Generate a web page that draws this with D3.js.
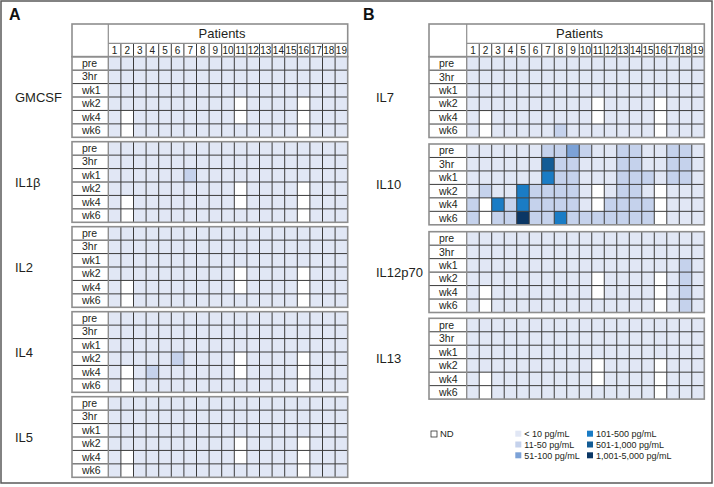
<!DOCTYPE html>
<html><head><meta charset="utf-8">
<script src="https://cdn.jsdelivr.net/npm/d3@7"></script>
<style>
body{margin:0;background:#fff}
svg{display:block}
text{font-family:"Liberation Sans",Arial,Helvetica,sans-serif;fill:#231f20}
</style>
</head><body>
<svg id="chart" width="714" height="487"></svg>
<script>
// ---------- data ----------
const patients = [1,2,3,4,5,6,7,8,9,10,11,12,13,14,15,16,17,18,19];
const timepoints = ["pre","3hr","wk1","wk2","wk4","wk6"];
const levels = ["ND","< 10 pg/mL","11-50 pg/mL","51-100 pg/mL","101-500 pg/mL","501-1,000 pg/mL","1,001-5,000 pg/mL"];
const panelACytokines = ["GMCSF","IL1β","IL2","IL4","IL5"];
const panelBCytokines = ["IL7","IL10","IL12p70","IL13"];
// level codes: 0=ND, 1=<10, 2=11-50, 3=51-100, 4=101-500, 5=501-1,000, 6=1,001-5,000
const GMCSF = [
  [1,1,1,1,1,1,1,1,1,1,1,1,1,1,1,1,1,1,1],
  [1,1,1,1,1,1,1,1,1,1,1,1,1,1,1,1,1,1,1],
  [1,1,1,1,1,1,1,1,1,1,1,1,1,1,1,1,1,1,1],
  [1,1,1,1,1,1,1,1,1,1,0,1,1,1,1,0,1,1,1],
  [1,0,1,1,1,1,1,1,1,1,0,1,1,1,1,0,1,1,1],
  [1,0,1,1,1,1,1,1,1,1,1,1,1,1,1,0,1,1,1]];
const IL1b = [
  [1,1,1,1,1,1,1,1,1,1,1,1,1,1,1,1,1,1,1],
  [1,1,1,1,1,1,1,1,1,1,1,1,1,1,1,1,1,1,1],
  [1,1,1,1,1,1,2,1,1,1,1,1,1,1,1,1,1,1,1],
  [1,1,1,1,1,1,1,1,1,1,0,1,1,1,1,0,1,1,1],
  [1,0,1,1,1,1,1,1,1,1,0,1,1,1,1,0,1,1,1],
  [1,0,1,1,1,1,1,1,1,1,1,1,1,1,1,0,1,1,1]];
const IL2 = [
  [1,1,1,1,1,1,1,1,1,1,1,1,1,1,1,1,1,1,1],
  [1,1,1,1,1,1,1,1,1,1,1,1,1,1,1,1,1,1,1],
  [1,1,1,1,1,1,1,1,1,1,1,1,1,1,1,1,1,1,1],
  [1,1,1,1,1,1,1,1,1,1,0,1,1,1,1,0,1,1,1],
  [1,0,1,1,1,1,1,1,1,1,0,1,1,1,1,0,1,1,1],
  [1,0,1,1,1,1,1,1,1,1,1,1,1,1,1,0,1,1,1]];
const IL4 = [
  [1,1,1,1,1,1,1,1,1,1,1,1,1,1,1,1,1,1,1],
  [1,1,1,1,1,1,1,1,1,1,1,1,1,1,1,1,1,1,1],
  [1,1,1,1,1,1,1,1,1,1,1,1,1,1,1,1,1,1,1],
  [1,1,1,1,1,2,1,1,1,1,0,1,1,1,1,0,1,1,1],
  [1,0,1,2,1,1,1,1,1,1,0,1,1,1,1,0,1,1,1],
  [1,0,1,1,1,1,1,1,1,1,1,1,1,1,1,0,1,1,1]];
const IL5 = [
  [1,1,1,1,1,1,1,1,1,1,1,1,1,1,1,1,1,1,1],
  [1,1,1,1,1,1,1,1,1,1,1,1,1,1,1,1,1,1,1],
  [1,1,1,1,1,1,1,1,1,1,1,1,1,1,1,1,1,1,1],
  [1,1,1,1,1,1,1,1,1,1,0,1,1,1,1,0,1,1,1],
  [1,0,1,1,1,1,1,1,1,1,0,1,1,1,1,0,1,1,1],
  [1,0,1,1,1,1,1,1,1,1,1,1,1,1,1,0,1,1,1]];
const IL7 = [
  [1,1,1,1,1,1,1,1,1,1,1,1,1,1,1,1,1,1,1],
  [1,1,1,1,1,1,1,1,1,1,1,1,1,1,1,1,1,1,1],
  [1,1,1,1,1,1,1,1,1,1,1,1,1,1,1,1,1,1,1],
  [1,1,1,1,1,1,1,1,1,1,0,1,1,1,1,0,1,1,1],
  [1,0,1,1,1,1,1,1,1,1,0,1,1,1,1,0,1,1,1],
  [1,0,1,1,1,1,1,2,1,1,1,1,1,1,1,0,1,1,1]];
const IL10 = [
  [1,1,1,1,1,1,2,2,3,2,1,1,2,2,1,1,2,2,1],
  [1,1,1,1,1,1,5,2,2,1,1,1,2,2,1,1,2,2,1],
  [1,1,1,1,1,1,4,2,2,1,1,1,2,2,2,1,2,2,1],
  [1,2,1,1,4,2,2,2,2,1,0,1,2,2,1,0,1,1,1],
  [2,0,4,2,4,2,2,2,2,1,0,2,2,2,2,0,1,1,1],
  [2,0,2,2,6,2,2,4,2,2,2,2,2,2,2,0,1,1,1]];
const IL12p70 = [
  [1,1,1,1,1,1,1,1,1,1,1,1,1,1,1,1,1,1,1],
  [1,1,1,1,1,1,1,1,1,1,1,1,1,1,1,1,1,1,1],
  [1,1,1,1,1,1,1,1,1,1,1,1,1,1,1,1,1,2,1],
  [1,1,1,1,1,1,1,1,1,1,0,1,1,1,1,0,1,2,1],
  [1,0,1,1,1,1,1,1,1,1,0,1,1,1,1,0,1,2,1],
  [1,0,1,1,1,1,1,1,1,1,1,1,1,1,1,0,1,2,1]];
const IL13 = [
  [1,1,1,1,1,1,1,1,1,1,1,1,1,1,1,1,1,1,1],
  [1,1,1,1,1,1,1,1,1,1,1,1,1,1,1,1,1,1,1],
  [1,1,1,1,1,1,1,1,1,1,1,1,1,1,1,1,1,1,1],
  [1,1,1,1,1,1,1,1,1,1,0,1,1,1,1,0,1,1,1],
  [1,0,1,1,1,1,1,1,1,1,0,1,1,1,1,0,1,1,1],
  [1,0,1,1,1,1,1,1,1,1,1,1,1,1,1,0,1,1,1]];
const panelAData = [GMCSF, IL1b, IL2, IL4, IL5];
const panelBData = [IL7, IL10, IL12p70, IL13];

// ---------- styles ----------
const levelColors = ["#ffffff","#e1e7f5","#c5d2ec","#7ca2d7","#1a7cc5","#135c95","#0b3765"];
const gridDark = "#3b3b3b", borderGray = "#8e8e8e";

const svg = d3.select("#chart");
const color = d3.scaleOrdinal().domain(d3.range(levels.length)).range(levelColors);

// outer frame
svg.append("rect").attr("x",1).attr("y",1).attr("width",711).attr("height",482)
  .attr("fill","none").attr("stroke","#5a5a5a").attr("stroke-width",1.5);

function drawPanel(cfg){
  const g = svg.append("g");
  const x = d3.scaleBand().domain(patients).range([cfg.dataX0, cfg.dataX1]);
  g.append("text").attr("x",cfg.letterX).attr("y",20).text(cfg.letter)
    .attr("font-size",16).attr("font-weight","bold").style("fill","#111");
  const hTop = 24, hMid = 43.3, hBot = cfg.blockTops[0];
  g.selectAll(".numsep").data(patients.slice(1)).enter().append("line")
    .attr("x1",d=>x(d)).attr("x2",d=>x(d)).attr("y1",hMid).attr("y2",hBot)
    .attr("stroke",gridDark).attr("stroke-width",1);
  g.selectAll(".num").data(patients).enter().append("text")
    .attr("x",d=>x(d)+x.bandwidth()/2).attr("y",hBot-3.2)
    .attr("text-anchor","middle").attr("font-size",10).text(d=>d);
  g.append("text").attr("x",(cfg.dataX0+cfg.dataX1)/2-6).attr("y",hMid-5)
    .attr("text-anchor","middle").attr("font-size",13).text("Patients");
  g.append("line").attr("x1",cfg.dataX0).attr("x2",cfg.dataX1).attr("y1",hMid).attr("y2",hMid)
    .attr("stroke",borderGray).attr("stroke-width",1.2);
  g.append("line").attr("x1",cfg.dataX0).attr("x2",cfg.dataX0).attr("y1",hTop).attr("y2",hBot)
    .attr("stroke",borderGray).attr("stroke-width",1.2);
  g.append("rect").attr("x",cfg.x0).attr("y",hTop).attr("width",cfg.dataX1-cfg.x0).attr("height",hBot-hTop)
    .attr("fill","none").attr("stroke",borderGray).attr("stroke-width",1.6);

  cfg.names.forEach((name,bi)=>{
    const top = cfg.blockTops[bi];
    const y = d3.scaleBand().domain(timepoints).range([top, top+cfg.blockH]);
    const data = cfg.data[bi];
    const bg = g.append("g");
    const cells = [];
    data.forEach((row,ri)=>row.forEach((v,ci)=>cells.push({t:timepoints[ri],p:patients[ci],v})));
    bg.selectAll("rect.cell").data(cells).enter().append("rect").attr("class","cell")
      .attr("x",d=>x(d.p)).attr("y",d=>y(d.t))
      .attr("width",x.bandwidth()).attr("height",y.bandwidth())
      .attr("fill",d=>color(d.v));
    bg.selectAll(".vl").data(patients.slice(1)).enter().append("line")
      .attr("x1",d=>x(d)).attr("x2",d=>x(d)).attr("y1",top).attr("y2",top+cfg.blockH)
      .attr("stroke",gridDark).attr("stroke-width",1);
    bg.selectAll(".hl").data(timepoints.slice(1)).enter().append("line")
      .attr("x1",cfg.x0).attr("x2",cfg.dataX1).attr("y1",d=>y(d)).attr("y2",d=>y(d))
      .attr("stroke",gridDark).attr("stroke-width",1);
    bg.append("line").attr("x1",cfg.dataX0).attr("x2",cfg.dataX0).attr("y1",top).attr("y2",top+cfg.blockH)
      .attr("stroke",borderGray).attr("stroke-width",1.4);
    bg.selectAll(".rl").data(timepoints).enter().append("text")
      .attr("x",cfg.x0+10).attr("y",d=>y(d)+y.bandwidth()/2+3.6)
      .attr("font-size",10.5).text(d=>d);
    bg.append("rect").attr("x",cfg.x0).attr("y",top).attr("width",cfg.dataX1-cfg.x0).attr("height",cfg.blockH)
      .attr("fill","none").attr("stroke",borderGray).attr("stroke-width",1.6);
    bg.append("text").attr("x",cfg.labelX).attr("y",top+cfg.blockH/2+4.5)
      .attr("font-size",13).text(name);
  });
}

drawPanel({letter:"A",letterX:9,x0:72,dataX0:108.3,dataX1:347.7,labelX:15,
  blockTops:[56.7,141.7,226.7,311.7,396.7],blockH:80.6,names:panelACytokines,data:panelAData});
drawPanel({letter:"B",letterX:363,x0:429,dataX0:466.7,dataX1:704.3,labelX:376,
  blockTops:[56.7,144,231.7,318.3],blockH:80.8,names:panelBCytokines,data:panelBData});

// ---------- legend ----------
const lg = svg.append("g");
lg.append("rect").attr("x",431).attr("y",431).attr("width",6).attr("height",6)
  .attr("fill","#fff").attr("stroke","#333").attr("stroke-width",0.8);
lg.append("text").attr("x",440).attr("y",437.3).attr("font-size",9.5).text(levels[0]);
const legItems = levels.slice(1).map((l,i)=>({l, v:i+1, col:Math.floor(i/3), row:i%3}));
const legX = d3.scaleOrdinal().domain([0,1]).range([515.3,587]);
const legY = d3.scalePoint().domain([0,1,2]).range([433.7,455.3]);
lg.selectAll(".ls").data(legItems).enter().append("rect")
  .attr("x",d=>legX(d.col)).attr("y",d=>legY(d.row)-3).attr("width",6).attr("height",6)
  .attr("fill",d=>color(d.v));
lg.selectAll(".lt").data(legItems).enter().append("text")
  .attr("x",d=>legX(d.col)+9).attr("y",d=>legY(d.row)+3.2).attr("font-size",9).text(d=>d.l);
</script>
</body></html>
